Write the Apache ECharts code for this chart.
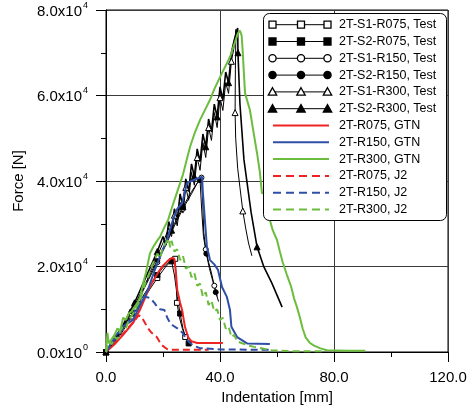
<!DOCTYPE html>
<html><head><meta charset="utf-8">
<script src="https://cdn.jsdelivr.net/npm/echarts@6/dist/echarts.min.js"></script>
<style>html,body{margin:0;padding:0;background:#fff}#c{width:473px;height:412px}</style>
</head><body><div id="c"></div>
<script>
// ---- data ----
const seriesNames = ['2T-S1-R075, Test','2T-S2-R075, Test','2T-S1-R150, Test','2T-S2-R150, Test','2T-S1-R300, Test','2T-S2-R300, Test',
  '2T-R075, GTN','2T-R150, GTN','2T-R300, GTN','2T-R075, J2','2T-R150, J2','2T-R300, J2'];
const xTickValues = [0, 40, 80, 120];
const yTickValues = [0, 20000, 40000, 60000, 80000];

const testS1R075 = [[0,0],[3,2000],[6,5000],[9,8300],[12,11300],[15,14300],[18,17300],[21,20000],[23,21300],[24.3,21800],[24.6,21500],[24.7,16000],[24.9,11500],[25.8,8000],[26.8,5500],[27.8,3500],[28.8,2300]];
const testS2R075 = [[0,0],[3,2300],[6,5600],[9,9000],[12,12000],[15,15200],[18,18000],[20,19800],[22,21000],[23,21200],[24,18000],[25,13000],[26,9000],[27,5500],[28,3300],[29,2000]];
const testS1R150 = [[0,0],[3,2500],[6,5500],[9,9000],[12,13000],[15,17000],[18,21000],[21,25000],[24,29500],[27,33500],[30,37000],[32,39500],[33.5,40800],[34,34000],[34.3,28000],[35,24000],[36,21000],[37,18500],[38,15500],[39,13000]];
const testS2R150 = [[0,0],[3,2800],[6,6000],[9,9500],[12,13500],[15,17500],[18,21500],[21,25500],[24,30000],[27,34000],[30,37500],[32,39500],[33,40200],[33.6,33000],[34.2,27000],[35.2,23000],[36.3,19500],[37.5,16500],[38.5,14000],[39.5,11800]];
const testS1R300 = [[0,0],[2,1500],[5,4500],[8,8500],[10,10500],[12,13500],[14,16000],[16,19500],[18,22500],[20,25500],[22,29000],[23,27000],[24,32000],[25,29500],[26,35000],[27,32500],[28,38500],[29,35500],[30,42000],[31,39000],[32,45500],[33,42500],[34,49000],[35,45500],[36,52500],[37,49500],[38,56000],[39,52500],[40,59500],[41,56500],[42,63000],[43,60500],[44,68000],[45,71500],[45.6,75500],[45.4,66000],[45.3,56000],[45.5,50000],[46.2,43000],[47,38500],[48,33000],[49,29000],[50,25500],[51.2,22500]];
const testS2R300 = [[0,0],[2,2000],[5,5000],[8,9000],[10,11500],[12,14500],[14,17500],[16,20500],[18,23500],[20,27000],[21,25000],[22,30500],[23,28500],[24,33500],[25,31000],[26,37000],[27,34000],[28,40500],[29,37500],[30,44000],[31,41000],[32,47500],[33,44500],[34,51000],[35,48000],[36,54500],[37,51500],[38,58000],[39,55000],[40,62000],[41,59000],[42,65500],[43,63000],[44,70000],[45,73000],[46.2,75800],[46.3,70000],[47,58000],[48.4,45000],[50.9,32700],[53,24600],[55.4,19900],[58.2,16100],[61.8,10500]];

const gtnR075 = [[0,0],[3,1800],[6,4000],[9.5,6800],[12,10000],[14.4,13800],[16,16000],[18.2,18500],[20,20200],[21.5,21200],[23,22000],[24,21800],[24.6,18000],[25,14500],[26,11500],[26.7,9800],[27.7,5900],[28.8,3500],[30,2500],[32,2100],[41,2100]];
const gtnR150 = [[0,0],[3,3500],[6,6000],[9.5,7500],[12,11000],[14.7,14500],[17,19000],[19.6,23400],[21.4,26200],[23.5,30900],[25,33500],[26.7,34800],[28.4,39500],[31,40300],[33.7,41000],[34,37200],[35.4,24600],[36.5,21500],[38,20500],[39.3,19200],[40.7,15200],[42.4,12900],[43.5,9800],[44,5900],[46,3500],[49.5,2000],[57.5,1900]];
const gtnR300 = [[0,0],[0.5,4500],[1,2000],[2,3000],[3,4000],[4,5500],[5,5000],[6,8000],[7,7500],[8,9000],[9,9500],[10,10500],[11,11500],[12,12900],[13,16000],[14,18500],[15.4,23000],[16.5,24500],[17.9,26000],[19,27000],[20,28500],[21.8,30900],[23,33500],[25,37500],[27,41500],[29.5,48000],[31,51000],[33,54300],[35,57000],[36.5,59000],[38,61500],[40,64300],[42,67000],[43.5,69000],[45,72000],[46.3,74600],[47,75200],[47.6,74000],[48,70000],[48.4,65000],[48.8,60500],[50.5,56600],[51.5,52500],[53,46500],[54,42000],[54.7,37200],[55.8,37000],[56.5,34000],[57.5,30900],[58.5,28500],[60,26200],[61,23500],[62,21000],[63.5,18000],[65,15200],[66,12500],[67,10500],[68,8200],[69,5500],[70,3500],[71.6,2100],[73,1500],[75,900],[77.5,400],[85,300],[91,300]];

const j2R075 = [[0,0],[2,1500],[4,2800],[6,4300],[8,5800],[10,7300],[11.5,8600],[12.5,8200],[13.5,7000],[14.7,5600],[16,4500],[17.8,3500],[18.7,2500],[19.6,1600],[21.4,700],[23,500],[36,500]];
const j2R150 = [[0,0],[2,1800],[4,3800],[6,5500],[8,7200],[10,9500],[12,11500],[13,12900],[14.5,12800],[15.5,12600],[17,11500],[18,10500],[19,10000],[20.5,9800],[21.5,8000],[22.5,6800],[23.5,6200],[24.9,5600],[26,5000],[27,4400],[28,3200],[29.5,2100],[31,1400],[33,900],[40,600],[57.5,500]];
const j2R300 = [[0,0],[1,2500],[2,1800],[3,3500],[4,3000],[5,5000],[6,6000],[7,5600],[8,7500],[9,8500],[10,9500],[11,11000],[12,12000],[13,14500],[14,16500],[15,18000],[16,20000],[17,21500],[18,23000],[19,22000],[20,24500],[21,25500],[22,26500],[22.5,24500],[23,26000],[24,23500],[25,24000],[26,21500],[27,22500],[28,19500],[29,20000],[30,17500],[31,18500],[32,15500],[33,16000],[34,12900],[35,14000],[36,11000],[37,12000],[38,9500],[39,10000],[40,7500],[41,8000],[42,5500],[43,6000],[44,3500],[45,4000],[46,2500],[48,2000],[50,1500],[52,1200],[55,800],[58,400],[65,200],[76,200]];

// ---- styles ----
const RED = '#ee2424', BLUE = '#2f4fa6', GREEN = '#6cbd3e';
const FONT = 'Liberation Sans, Arial, sans-serif';

function testSeries(name, data, symbol, filled, every, lw) {
  return {
    name, type: 'line', data, z: 2,
    lineStyle: { color: '#000', width: lw },
    symbol, showSymbol: true, showAllSymbol: true,
    symbolSize: (v, p) => (p.dataIndex % every === 0 ? (symbol === 'triangle' ? 6 : 5) : 0),
    itemStyle: { color: filled ? '#000' : '#fff', borderColor: '#000', borderWidth: 1 },
    animation: false
  };
}
function simSeries(name, data, color, dashed) {
  return {
    name, type: 'line', data, z: 3, symbol: 'none',
    lineStyle: { color, width: 2, type: dashed ? [7, 4] : 'solid' },
    animation: false
  };
}

const series = [
  testSeries(seriesNames[0], testS1R075, 'rect', false, 3, 1),
  testSeries(seriesNames[1], testS2R075, 'rect', true, 3, 1),
  testSeries(seriesNames[2], testS1R150, 'circle', false, 3, 1),
  testSeries(seriesNames[3], testS2R150, 'circle', true, 3, 1),
  testSeries(seriesNames[4], testS1R300, 'triangle', false, 4, 1),
  testSeries(seriesNames[5], testS2R300, 'triangle', true, 4, 1.6),
  simSeries(seriesNames[6], gtnR075, RED, false),
  simSeries(seriesNames[7], gtnR150, BLUE, false),
  simSeries(seriesNames[8], gtnR300, GREEN, false),
  simSeries(seriesNames[9], j2R075, RED, true),
  simSeries(seriesNames[10], j2R150, BLUE, true),
  simSeries(seriesNames[11], j2R300, GREEN, true)
];

// ---- legend drawn as graphic ----
const legendItems = [
  {m:'rect', f:false}, {m:'rect', f:true}, {m:'circle', f:false}, {m:'circle', f:true}, {m:'triangle', f:false}, {m:'triangle', f:true},
  {c:RED}, {c:BLUE}, {c:GREEN}, {c:RED, d:true}, {c:BLUE, d:true}, {c:GREEN, d:true}
];
const LX = 263, LY = 13, LW = 183, LH = 207, ROW0 = 24.7, ROWH = 16.8;
const gEls = [{ type: 'rect', shape: { x: LX + 0.5, y: LY + 0.5, width: LW, height: LH, r: 6 }, style: { fill: '#fff', stroke: '#000', lineWidth: 1 }, z: 100 }];
function marker(kind, filled, cx, cy) {
  const st = { fill: filled ? '#000' : '#fff', stroke: '#000', lineWidth: 1.3 };
  if (kind === 'rect') return { type: 'rect', shape: { x: cx - 3.5, y: cy - 3.5, width: 7, height: 7 }, style: st, z: 102 };
  if (kind === 'circle') return { type: 'circle', shape: { cx, cy, r: 3.6 }, style: st, z: 102 };
  return { type: 'polygon', shape: { points: [[cx, cy - 4.2], [cx + 4.2, cy + 3.3], [cx - 4.2, cy + 3.3]] }, style: st, z: 102 };
}
legendItems.forEach((it, i) => {
  const cy = ROW0 + i * ROWH;
  if (it.m) {
    gEls.push({ type: 'line', shape: { x1: 272, y1: cy, x2: 328, y2: cy }, style: { stroke: '#000', lineWidth: 1 }, z: 101 });
    [272.5, 301, 327.5].forEach(cx => gEls.push(marker(it.m, it.f, cx, cy)));
  } else {
    gEls.push({ type: 'line', shape: { x1: 273, y1: cy, x2: 329, y2: cy }, style: { stroke: it.c, lineWidth: 2, lineDash: it.d ? [8, 5] : null }, z: 101 });
  }
  gEls.push({ type: 'text', style: { x: 339, y: cy, text: seriesNames[i], fill: '#000', font: '12.5px ' + FONT, textVerticalAlign: 'middle', verticalAlign: 'middle' }, z: 102 });
});

function yLabel(v) {
  if (v === 0) return '{a|0.0x10}{b|0}';
  const e = Math.floor(Math.log10(v));
  const m = v / Math.pow(10, e);
  return '{a|' + m.toFixed(1) + 'x10}{b|' + e + '}';
}

const chart = echarts.init(document.getElementById('c'), null, { renderer: 'canvas' });
chart.setOption({
  animation: false,
  backgroundColor: '#fff',
  textStyle: { fontFamily: FONT },
  grid: { left: 106, right: 25, top: 10, bottom: 60, show: true, borderColor: '#000', borderWidth: 1, containLabel: false },
  xAxis: {
    type: 'value', min: xTickValues[0], max: xTickValues[xTickValues.length - 1], interval: 40,
    name: 'Indentation [mm]', nameLocation: 'middle', nameGap: 34,
    nameTextStyle: { fontSize: 15, color: '#000', fontFamily: FONT },
    axisLine: { lineStyle: { color: '#000', width: 1 } },
    axisTick: { show: true, inside: false, length: 10, lineStyle: { color: '#000' } },
    minorTick: { show: true, splitNumber: 2, length: 5, lineStyle: { color: '#000' } },
    splitLine: { show: true, lineStyle: { color: '#3a3a3a', width: 1 } },
    axisLabel: { formatter: v => v.toFixed(1), fontSize: 15, color: '#000', margin: 18, fontFamily: FONT }
  },
  yAxis: {
    type: 'value', min: yTickValues[0], max: yTickValues[yTickValues.length - 1], interval: 20000,
    name: 'Force [N]', nameLocation: 'middle', nameGap: 76, nameRotate: 90,
    nameTextStyle: { fontSize: 15, color: '#000', fontFamily: FONT },
    axisLine: { show: true, lineStyle: { color: '#000', width: 1 } },
    axisTick: { show: true, inside: false, length: 10, lineStyle: { color: '#000' } },
    minorTick: { show: true, splitNumber: 2, length: 5, lineStyle: { color: '#000' } },
    splitLine: { show: true, lineStyle: { color: '#3a3a3a', width: 1 } },
    axisLabel: {
      formatter: yLabel, margin: 18, color: '#000',
      rich: {
        a: { fontSize: 15, fontFamily: FONT, color: '#000', lineHeight: 18, verticalAlign: 'bottom' },
        b: { fontSize: 9, fontFamily: FONT, color: '#000', lineHeight: 18, verticalAlign: 'top', padding: [0, 0, 0, 1] }
      }
    }
  },
  series,
  graphic: { elements: gEls }
});
</script></body></html>
